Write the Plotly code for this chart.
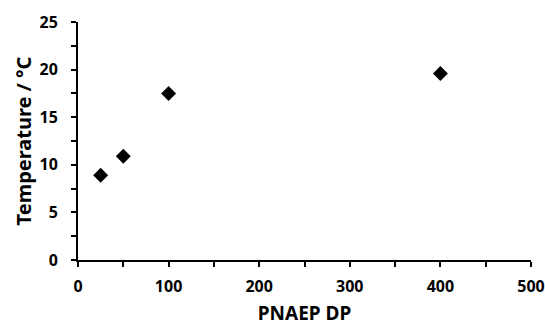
import plotly.graph_objects as go

dp = [25, 50, 100, 400]
temperature = [8.9, 10.9, 17.5, 19.6]

x_ticks = [0, 100, 200, 300, 400, 500]
y_ticks = [0, 5, 10, 15, 20, 25]

FONT = "Noto Sans"

fig = go.Figure(go.Scatter(
    x=dp, y=temperature, mode="markers",
    marker=dict(symbol="diamond", size=11.5, color="black", line=dict(width=0)),
    showlegend=False, cliponaxis=False,
))

axis_common = dict(
    showgrid=False, zeroline=False, showline=True, linecolor="black", linewidth=1.8,
    ticks="outside", ticklen=5, tickwidth=1.5, tickcolor="black",
    tickfont=dict(family=FONT, size=16, color="black"),
    mirror=False, automargin=False,
)

fig.update_xaxes(
    range=[0, 500], tickvals=x_ticks, ticktext=[f"<b>{v}</b>" for v in x_ticks],
    minor=dict(ticks="outside", ticklen=5, tickwidth=1.5, tickcolor="black", dtick=50),
    title=dict(text="<b>PNAEP DP</b>", font=dict(family=FONT, size=19, color="black"), standoff=15),
    ticklabelstandoff=6,
    **axis_common,
)
fig.update_yaxes(
    range=[0, 25], tickvals=y_ticks, ticktext=[f"<b>{v}</b>" for v in y_ticks],
    minor=dict(ticks="outside", ticklen=5, tickwidth=1.5, tickcolor="black", dtick=2.5),
    title=dict(text="<b>Temperature / °C</b>", font=dict(family=FONT, size=20, color="black"), standoff=3),
    ticklabelstandoff=10,
    **axis_common,
)

fig.update_layout(
    width=545, height=326,
    margin=dict(l=78, r=14, t=22, b=66),
    paper_bgcolor="white", plot_bgcolor="white",
)

fig.write_html("out.html", config={"displayModeBar": False},
               post_script="document.body.style.margin='0';")
